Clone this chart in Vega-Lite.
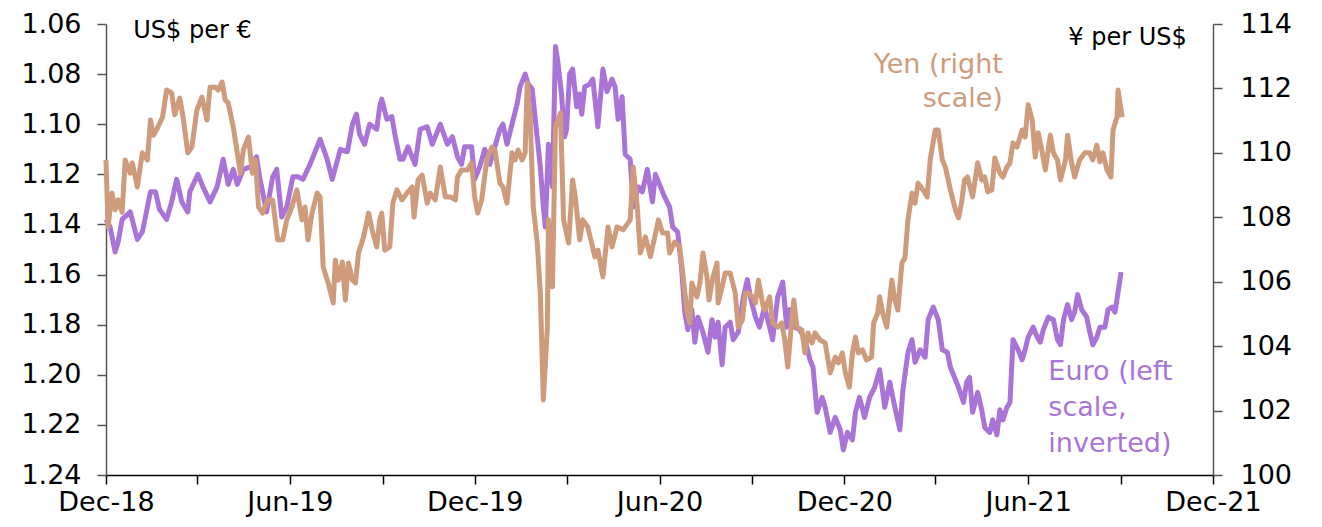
{
  "$schema": "https://vega.github.io/schema/vega-lite/v6.json",
  "width": 1107,
  "height": 451,
  "autosize": {"type": "none"},
  "padding": {"left": 106, "top": 24, "right": 109, "bottom": 52},
  "background": "white",
  "config": {
    "view": {"stroke": null},
    "font": "DejaVu Sans",
    "axis": {"labelFont": "DejaVu Sans", "labelFontSize": 27, "labelColor": "#000", "grid": false, "title": null, "labelOverlap": false, "labelFlush": false, "labelBound": false}
  },
  "datasets": {
    "euro": [
      {"d":"2018-12-01","v":1.138},{"d":"2018-12-05","v":1.141},{"d":"2018-12-10","v":1.151},{"d":"2018-12-13","v":1.147},{"d":"2018-12-17","v":1.138},{"d":"2018-12-25","v":1.135},
      {"d":"2019-01-01","v":1.146},{"d":"2019-01-06","v":1.143},{"d":"2019-01-14","v":1.127},{"d":"2019-01-19","v":1.127},{"d":"2019-01-23","v":1.134},{"d":"2019-01-30","v":1.138},
      {"d":"2019-02-04","v":1.131},{"d":"2019-02-09","v":1.122},{"d":"2019-02-14","v":1.131},{"d":"2019-02-20","v":1.135},{"d":"2019-02-22","v":1.127},
      {"d":"2019-03-02","v":1.120},{"d":"2019-03-07","v":1.125},{"d":"2019-03-14","v":1.131},{"d":"2019-03-21","v":1.125},{"d":"2019-03-27","v":1.114},
      {"d":"2019-04-01","v":1.124},{"d":"2019-04-06","v":1.118},{"d":"2019-04-10","v":1.124},{"d":"2019-04-16","v":1.118},{"d":"2019-04-23","v":1.117},{"d":"2019-04-29","v":1.113},
      {"d":"2019-05-02","v":1.121},{"d":"2019-05-09","v":1.135},{"d":"2019-05-15","v":1.121},{"d":"2019-05-19","v":1.118},{"d":"2019-05-24","v":1.137},{"d":"2019-05-29","v":1.133},
      {"d":"2019-06-04","v":1.121},{"d":"2019-06-09","v":1.121},{"d":"2019-06-14","v":1.122},{"d":"2019-06-21","v":1.116},
      {"d":"2019-07-01","v":1.106},{"d":"2019-07-08","v":1.114},{"d":"2019-07-13","v":1.122},{"d":"2019-07-21","v":1.110},{"d":"2019-07-28","v":1.111},
      {"d":"2019-08-02","v":1.100},{"d":"2019-08-06","v":1.096},{"d":"2019-08-09","v":1.104},{"d":"2019-08-14","v":1.108},{"d":"2019-08-19","v":1.100},{"d":"2019-08-26","v":1.102},{"d":"2019-08-29","v":1.093},{"d":"2019-08-31","v":1.090},
      {"d":"2019-09-05","v":1.098},{"d":"2019-09-10","v":1.097},{"d":"2019-09-13","v":1.104},{"d":"2019-09-18","v":1.114},{"d":"2019-09-21","v":1.114},{"d":"2019-09-26","v":1.109},
      {"d":"2019-10-03","v":1.116},{"d":"2019-10-08","v":1.102},{"d":"2019-10-15","v":1.101},{"d":"2019-10-20","v":1.108},{"d":"2019-10-28","v":1.100},
      {"d":"2019-11-04","v":1.108},{"d":"2019-11-09","v":1.105},{"d":"2019-11-14","v":1.113},{"d":"2019-11-18","v":1.116},{"d":"2019-11-21","v":1.109},{"d":"2019-11-28","v":1.109},
      {"d":"2019-12-01","v":1.122},{"d":"2019-12-06","v":1.117},{"d":"2019-12-11","v":1.110},{"d":"2019-12-16","v":1.116},{"d":"2019-12-21","v":1.109},{"d":"2019-12-26","v":1.102},{"d":"2019-12-29","v":1.100},
      {"d":"2020-01-02","v":1.108},{"d":"2020-01-07","v":1.100},{"d":"2020-01-12","v":1.092},{"d":"2020-01-15","v":1.085},{"d":"2020-01-20","v":1.080},{"d":"2020-01-23","v":1.084},{"d":"2020-01-27","v":1.086},{"d":"2020-01-30","v":1.098},
      {"d":"2020-02-04","v":1.117},{"d":"2020-02-07","v":1.133},{"d":"2020-02-09","v":1.141},{"d":"2020-02-12","v":1.108},{"d":"2020-02-16","v":1.125},{"d":"2020-02-19","v":1.069},{"d":"2020-02-21","v":1.074},{"d":"2020-02-25","v":1.088},{"d":"2020-02-28","v":1.105},
      {"d":"2020-03-01","v":1.102},{"d":"2020-03-04","v":1.080},{"d":"2020-03-07","v":1.078},{"d":"2020-03-11","v":1.093},{"d":"2020-03-14","v":1.088},{"d":"2020-03-16","v":1.096},{"d":"2020-03-19","v":1.085},{"d":"2020-03-24","v":1.084},{"d":"2020-03-27","v":1.082},
      {"d":"2020-04-01","v":1.101},{"d":"2020-04-06","v":1.078},{"d":"2020-04-10","v":1.087},{"d":"2020-04-15","v":1.082},{"d":"2020-04-18","v":1.085},{"d":"2020-04-21","v":1.098},{"d":"2020-04-25","v":1.089},{"d":"2020-04-28","v":1.112},
      {"d":"2020-05-03","v":1.114},{"d":"2020-05-06","v":1.133},{"d":"2020-05-11","v":1.125},{"d":"2020-05-15","v":1.127},{"d":"2020-05-20","v":1.118},{"d":"2020-05-25","v":1.131},{"d":"2020-05-28","v":1.120},
      {"d":"2020-06-01","v":1.124},{"d":"2020-06-06","v":1.129},{"d":"2020-06-11","v":1.133},{"d":"2020-06-14","v":1.141},{"d":"2020-06-19","v":1.143},{"d":"2020-06-23","v":1.158},{"d":"2020-06-26","v":1.175},{"d":"2020-06-29","v":1.182},
      {"d":"2020-07-03","v":1.174},{"d":"2020-07-06","v":1.187},{"d":"2020-07-09","v":1.177},{"d":"2020-07-14","v":1.183},{"d":"2020-07-19","v":1.191},{"d":"2020-07-23","v":1.178},{"d":"2020-07-26","v":1.185},{"d":"2020-07-29","v":1.179},
      {"d":"2020-08-02","v":1.196},{"d":"2020-08-05","v":1.181},{"d":"2020-08-10","v":1.179},{"d":"2020-08-13","v":1.186},{"d":"2020-08-18","v":1.183},{"d":"2020-08-23","v":1.169},{"d":"2020-08-27","v":1.162},{"d":"2020-08-30","v":1.169},
      {"d":"2020-09-04","v":1.177},{"d":"2020-09-08","v":1.181},{"d":"2020-09-13","v":1.173},{"d":"2020-09-18","v":1.181},{"d":"2020-09-21","v":1.186},{"d":"2020-09-26","v":1.169},
      {"d":"2020-10-01","v":1.163},{"d":"2020-10-05","v":1.181},{"d":"2020-10-08","v":1.174},{"d":"2020-10-13","v":1.181},{"d":"2020-10-18","v":1.182},{"d":"2020-10-23","v":1.186},{"d":"2020-10-28","v":1.194},{"d":"2020-10-31","v":1.197},
      {"d":"2020-11-04","v":1.215},{"d":"2020-11-09","v":1.209},{"d":"2020-11-12","v":1.213},{"d":"2020-11-17","v":1.223},{"d":"2020-11-22","v":1.217},{"d":"2020-11-27","v":1.222},{"d":"2020-11-30","v":1.230},
      {"d":"2020-12-04","v":1.223},{"d":"2020-12-09","v":1.226},{"d":"2020-12-12","v":1.215},{"d":"2020-12-16","v":1.209},{"d":"2020-12-21","v":1.217},{"d":"2020-12-26","v":1.209},{"d":"2020-12-31","v":1.205},
      {"d":"2021-01-05","v":1.198},{"d":"2021-01-10","v":1.213},{"d":"2021-01-15","v":1.203},{"d":"2021-01-20","v":1.213},{"d":"2021-01-25","v":1.222},{"d":"2021-01-28","v":1.206},
      {"d":"2021-02-02","v":1.191},{"d":"2021-02-06","v":1.186},{"d":"2021-02-09","v":1.195},{"d":"2021-02-14","v":1.190},{"d":"2021-02-19","v":1.193},{"d":"2021-02-22","v":1.178},{"d":"2021-02-27","v":1.173},
      {"d":"2021-03-04","v":1.178},{"d":"2021-03-08","v":1.190},{"d":"2021-03-13","v":1.191},{"d":"2021-03-16","v":1.197},{"d":"2021-03-21","v":1.202},{"d":"2021-03-24","v":1.205},{"d":"2021-03-29","v":1.211},
      {"d":"2021-04-01","v":1.203},{"d":"2021-04-04","v":1.201},{"d":"2021-04-07","v":1.215},{"d":"2021-04-12","v":1.207},{"d":"2021-04-16","v":1.214},{"d":"2021-04-19","v":1.221},{"d":"2021-04-24","v":1.223},{"d":"2021-04-27","v":1.218},
      {"d":"2021-05-01","v":1.224},{"d":"2021-05-04","v":1.214},{"d":"2021-05-07","v":1.218},{"d":"2021-05-11","v":1.213},{"d":"2021-05-14","v":1.211},{"d":"2021-05-17","v":1.186},{"d":"2021-05-22","v":1.190},{"d":"2021-05-26","v":1.194},{"d":"2021-05-29","v":1.190},
      {"d":"2021-06-01","v":1.185},{"d":"2021-06-06","v":1.181},{"d":"2021-06-10","v":1.185},{"d":"2021-06-13","v":1.187},{"d":"2021-06-16","v":1.182},{"d":"2021-06-21","v":1.177},{"d":"2021-06-26","v":1.178},{"d":"2021-06-30","v":1.186},
      {"d":"2021-07-03","v":1.188},{"d":"2021-07-06","v":1.178},{"d":"2021-07-10","v":1.172},{"d":"2021-07-14","v":1.178},{"d":"2021-07-17","v":1.175},{"d":"2021-07-20","v":1.168},{"d":"2021-07-24","v":1.174},{"d":"2021-07-29","v":1.177},
      {"d":"2021-08-01","v":1.183},{"d":"2021-08-04","v":1.188},{"d":"2021-08-08","v":1.185},{"d":"2021-08-11","v":1.181},{"d":"2021-08-16","v":1.181},{"d":"2021-08-19","v":1.174},{"d":"2021-08-23","v":1.173},{"d":"2021-08-26","v":1.175},{"d":"2021-08-29","v":1.167},
      {"d":"2021-09-01","v":1.159}
    ],
    "yen": [
      {"d":"2018-12-01","v":109.78},{"d":"2018-12-03","v":107.70},{"d":"2018-12-07","v":108.75},{"d":"2018-12-10","v":108.23},{"d":"2018-12-13","v":108.54},{"d":"2018-12-17","v":108.16},{"d":"2018-12-20","v":109.78},{"d":"2018-12-25","v":109.37},{"d":"2018-12-27","v":109.69},
      {"d":"2019-01-01","v":108.94},{"d":"2019-01-06","v":110.00},{"d":"2019-01-11","v":109.78},{"d":"2019-01-14","v":111.02},{"d":"2019-01-17","v":110.55},{"d":"2019-01-21","v":110.77},{"d":"2019-01-26","v":111.11},{"d":"2019-01-30","v":111.95},
      {"d":"2019-02-04","v":111.86},{"d":"2019-02-07","v":111.18},{"d":"2019-02-12","v":111.70},{"d":"2019-02-15","v":111.18},{"d":"2019-02-20","v":110.00},{"d":"2019-02-24","v":110.18},
      {"d":"2019-03-01","v":111.33},{"d":"2019-03-06","v":111.73},{"d":"2019-03-11","v":111.02},{"d":"2019-03-14","v":112.04},{"d":"2019-03-19","v":112.04},{"d":"2019-03-22","v":111.95},{"d":"2019-03-26","v":112.20},{"d":"2019-03-29","v":111.64},
      {"d":"2019-04-01","v":111.55},{"d":"2019-04-06","v":110.80},{"d":"2019-04-10","v":110.00},{"d":"2019-04-13","v":109.37},{"d":"2019-04-16","v":110.09},{"d":"2019-04-21","v":110.49},{"d":"2019-04-25","v":109.37},{"d":"2019-04-28","v":109.78},
      {"d":"2019-05-01","v":108.32},{"d":"2019-05-05","v":108.13},{"d":"2019-05-10","v":108.54},{"d":"2019-05-15","v":108.54},{"d":"2019-05-20","v":107.30},{"d":"2019-05-25","v":107.30},{"d":"2019-05-29","v":107.92},
      {"d":"2019-06-03","v":108.32},{"d":"2019-06-08","v":108.85},{"d":"2019-06-13","v":107.92},{"d":"2019-06-16","v":108.32},{"d":"2019-06-19","v":107.30},{"d":"2019-06-23","v":108.13},{"d":"2019-06-28","v":108.75},
      {"d":"2019-07-01","v":108.63},{"d":"2019-07-04","v":106.46},{"d":"2019-07-09","v":105.96},{"d":"2019-07-14","v":105.34},{"d":"2019-07-16","v":106.67},{"d":"2019-07-19","v":106.05},{"d":"2019-07-23","v":106.61},{"d":"2019-07-26","v":105.43},{"d":"2019-07-29","v":106.58},
      {"d":"2019-08-02","v":106.05},{"d":"2019-08-05","v":105.96},{"d":"2019-08-08","v":106.89},{"d":"2019-08-13","v":107.39},{"d":"2019-08-18","v":108.13},{"d":"2019-08-22","v":107.54},{"d":"2019-08-26","v":107.08},{"d":"2019-08-29","v":107.92},{"d":"2019-08-31","v":108.13},
      {"d":"2019-09-03","v":106.98},{"d":"2019-09-08","v":107.08},{"d":"2019-09-11","v":108.44},{"d":"2019-09-15","v":108.85},{"d":"2019-09-20","v":108.54},{"d":"2019-09-25","v":108.75},{"d":"2019-09-30","v":108.94},
      {"d":"2019-10-02","v":108.01},{"d":"2019-10-06","v":109.16},{"d":"2019-10-10","v":109.31},{"d":"2019-10-15","v":108.44},{"d":"2019-10-18","v":108.75},{"d":"2019-10-23","v":108.54},{"d":"2019-10-28","v":109.56},
      {"d":"2019-11-02","v":108.63},{"d":"2019-11-07","v":108.63},{"d":"2019-11-12","v":108.54},{"d":"2019-11-14","v":109.25},{"d":"2019-11-18","v":109.47},{"d":"2019-11-24","v":109.47},{"d":"2019-11-28","v":109.69},
      {"d":"2019-12-01","v":108.63},{"d":"2019-12-04","v":108.13},{"d":"2019-12-08","v":108.54},{"d":"2019-12-13","v":109.78},{"d":"2019-12-18","v":110.18},{"d":"2019-12-21","v":110.09},{"d":"2019-12-26","v":109.06},{"d":"2019-12-29","v":108.94},
      {"d":"2020-01-02","v":108.44},{"d":"2020-01-07","v":110.00},{"d":"2020-01-10","v":109.78},{"d":"2020-01-13","v":110.09},{"d":"2020-01-17","v":109.78},{"d":"2020-01-20","v":110.00},{"d":"2020-01-22","v":112.17},{"d":"2020-01-25","v":111.11},{"d":"2020-01-28","v":108.32},
      {"d":"2020-02-01","v":107.20},{"d":"2020-02-04","v":105.65},{"d":"2020-02-07","v":102.33},{"d":"2020-02-11","v":104.59},{"d":"2020-02-12","v":107.92},{"d":"2020-02-16","v":105.84},{"d":"2020-02-19","v":110.80},{"d":"2020-02-24","v":111.24},{"d":"2020-02-27","v":107.92},
      {"d":"2020-03-03","v":107.20},{"d":"2020-03-07","v":109.16},{"d":"2020-03-10","v":108.54},{"d":"2020-03-14","v":107.30},{"d":"2020-03-17","v":107.92},{"d":"2020-03-22","v":107.70},{"d":"2020-03-29","v":106.77},
      {"d":"2020-04-01","v":106.98},{"d":"2020-04-06","v":106.15},{"d":"2020-04-11","v":107.70},{"d":"2020-04-15","v":107.08},{"d":"2020-04-20","v":107.70},{"d":"2020-04-26","v":107.61},
      {"d":"2020-05-03","v":107.92},{"d":"2020-05-06","v":109.56},{"d":"2020-05-10","v":108.32},{"d":"2020-05-13","v":106.89},{"d":"2020-05-18","v":107.39},{"d":"2020-05-23","v":106.78},{"d":"2020-05-26","v":107.20},{"d":"2020-05-31","v":107.92},
      {"d":"2020-06-04","v":107.51},{"d":"2020-06-09","v":107.51},{"d":"2020-06-11","v":106.89},{"d":"2020-06-16","v":107.23},{"d":"2020-06-21","v":107.08},{"d":"2020-06-24","v":106.27},{"d":"2020-06-28","v":105.12},
      {"d":"2020-07-01","v":104.72},{"d":"2020-07-03","v":105.96},{"d":"2020-07-08","v":105.53},{"d":"2020-07-11","v":105.96},{"d":"2020-07-14","v":106.89},{"d":"2020-07-18","v":106.15},{"d":"2020-07-20","v":105.43},{"d":"2020-07-24","v":106.15},{"d":"2020-07-28","v":106.58},{"d":"2020-07-29","v":105.34},
      {"d":"2020-08-02","v":105.84},{"d":"2020-08-05","v":106.27},{"d":"2020-08-10","v":106.27},{"d":"2020-08-15","v":105.65},{"d":"2020-08-18","v":104.59},{"d":"2020-08-22","v":104.81},{"d":"2020-08-25","v":105.65},{"d":"2020-08-28","v":105.65},
      {"d":"2020-09-01","v":105.53},{"d":"2020-09-04","v":105.34},{"d":"2020-09-07","v":106.05},{"d":"2020-09-11","v":105.34},{"d":"2020-09-13","v":105.12},{"d":"2020-09-18","v":105.53},{"d":"2020-09-21","v":104.72},{"d":"2020-09-26","v":104.59},{"d":"2020-09-30","v":104.72},
      {"d":"2020-10-03","v":104.19},{"d":"2020-10-06","v":103.35},{"d":"2020-10-10","v":104.81},{"d":"2020-10-12","v":105.43},{"d":"2020-10-15","v":104.59},{"d":"2020-10-20","v":104.50},{"d":"2020-10-23","v":103.79},{"d":"2020-10-26","v":104.41},{"d":"2020-10-30","v":104.10},
      {"d":"2020-11-02","v":104.41},{"d":"2020-11-07","v":104.19},{"d":"2020-11-12","v":104.10},{"d":"2020-11-17","v":103.17},{"d":"2020-11-22","v":103.66},{"d":"2020-11-25","v":103.48},{"d":"2020-11-29","v":103.79},
      {"d":"2020-12-02","v":103.17},{"d":"2020-12-06","v":102.73},{"d":"2020-12-09","v":103.79},{"d":"2020-12-12","v":104.28},{"d":"2020-12-15","v":103.79},{"d":"2020-12-19","v":103.88},{"d":"2020-12-23","v":103.57},{"d":"2020-12-28","v":103.66},{"d":"2020-12-30","v":104.72},
      {"d":"2021-01-03","v":105.03},{"d":"2021-01-05","v":105.53},{"d":"2021-01-08","v":105.03},{"d":"2021-01-12","v":104.59},{"d":"2021-01-17","v":106.05},{"d":"2021-01-20","v":105.43},{"d":"2021-01-23","v":105.12},{"d":"2021-01-27","v":106.58},{"d":"2021-01-30","v":106.74},
      {"d":"2021-02-02","v":107.92},{"d":"2021-02-06","v":108.75},{"d":"2021-02-09","v":108.44},{"d":"2021-02-12","v":109.06},{"d":"2021-02-17","v":108.85},{"d":"2021-02-21","v":108.63},{"d":"2021-02-24","v":109.78},
      {"d":"2021-03-01","v":110.71},{"d":"2021-03-04","v":110.71},{"d":"2021-03-08","v":109.78},{"d":"2021-03-11","v":109.56},{"d":"2021-03-16","v":108.85},{"d":"2021-03-21","v":108.23},{"d":"2021-03-24","v":107.98},{"d":"2021-03-27","v":108.44},{"d":"2021-03-30","v":109.16},
      {"d":"2021-04-02","v":109.25},{"d":"2021-04-07","v":108.63},{"d":"2021-04-12","v":109.69},{"d":"2021-04-16","v":109.16},{"d":"2021-04-19","v":109.25},{"d":"2021-04-22","v":108.79},{"d":"2021-04-26","v":108.85},{"d":"2021-04-29","v":109.84},
      {"d":"2021-05-04","v":109.37},{"d":"2021-05-07","v":109.25},{"d":"2021-05-11","v":109.56},{"d":"2021-05-14","v":109.69},{"d":"2021-05-17","v":110.31},{"d":"2021-05-21","v":110.18},{"d":"2021-05-26","v":110.71},{"d":"2021-05-29","v":110.49},
      {"d":"2021-06-01","v":111.49},{"d":"2021-06-05","v":111.02},{"d":"2021-06-08","v":109.87},{"d":"2021-06-11","v":110.62},{"d":"2021-06-15","v":110.00},{"d":"2021-06-18","v":109.47},{"d":"2021-06-23","v":110.55},{"d":"2021-06-26","v":110.00},{"d":"2021-06-30","v":109.78},
      {"d":"2021-07-03","v":109.16},{"d":"2021-07-08","v":109.78},{"d":"2021-07-10","v":110.55},{"d":"2021-07-14","v":109.69},{"d":"2021-07-17","v":109.25},{"d":"2021-07-22","v":109.78},{"d":"2021-07-27","v":110.00},
      {"d":"2021-08-01","v":110.00},{"d":"2021-08-04","v":109.78},{"d":"2021-08-08","v":110.24},{"d":"2021-08-11","v":109.72},{"d":"2021-08-14","v":110.00},{"d":"2021-08-18","v":109.47},{"d":"2021-08-22","v":109.25},{"d":"2021-08-24","v":110.71},{"d":"2021-08-28","v":111.11},{"d":"2021-08-29","v":111.95},
      {"d":"2021-09-01","v":111.33},{"d":"2021-09-02","v":111.11}
    ]
  },
  "encoding": {
    "x": {
      "field": "d", "type": "temporal",
      "scale": {"type": "utc", "domain": [{"year": 2018, "month": 12, "date": 1, "utc": true}, {"year": 2021, "month": 12, "date": 1, "utc": true}]},
      "axis": {
        "values": [
          {"year": 2018, "month": 12, "date": 1, "utc": true}, {"year": 2019, "month": 3, "date": 1, "utc": true}, {"year": 2019, "month": 6, "date": 1, "utc": true}, {"year": 2019, "month": 9, "date": 1, "utc": true},
          {"year": 2019, "month": 12, "date": 1, "utc": true}, {"year": 2020, "month": 3, "date": 1, "utc": true}, {"year": 2020, "month": 6, "date": 1, "utc": true}, {"year": 2020, "month": 9, "date": 1, "utc": true},
          {"year": 2020, "month": 12, "date": 1, "utc": true}, {"year": 2021, "month": 3, "date": 1, "utc": true}, {"year": 2021, "month": 6, "date": 1, "utc": true}, {"year": 2021, "month": 9, "date": 1, "utc": true},
          {"year": 2021, "month": 12, "date": 1, "utc": true}
        ],
        "labelExpr": "utcmonth(datum.value) % 6 == 5 ? utcFormat(datum.value, '%b-%y') : ''",
        "domainColor": "#000", "domainWidth": 1.5, "tickColor": "#000", "tickWidth": 1.5, "tickSize": 9, "labelPadding": 5
      }
    }
  },
  "layer": [
    {
      "layer": [
        {
          "data": {"name": "euro"},
          "mark": {"type": "line", "color": "#A973D7", "strokeWidth": 5, "strokeJoin": "round"},
          "encoding": {
            "y": {"field": "v", "type": "quantitative",
              "scale": {"domain": [1.06, 1.24], "reverse": true, "nice": false, "zero": false},
              "axis": {"orient": "left", "values": [1.06, 1.08, 1.10, 1.12, 1.14, 1.16, 1.18, 1.20, 1.22, 1.24], "format": ".2f", "domainColor": "#555", "domainWidth": 1.5, "tickColor": "#555", "tickWidth": 1.5, "tickSize": 9, "labelPadding": 16}}
          }
        },
        {
          "data": {"values": [{"d": "2018-12-28", "v": 1.0656, "t": "US$ per €"}]},
          "mark": {"type": "text", "align": "left", "baseline": "alphabetic", "fontSize": 24, "color": "#000"},
          "encoding": {"y": {"field": "v", "type": "quantitative"}, "text": {"field": "t"}}
        },
        {
          "data": {"values": [{"d": "2021-06-21", "v": 1.2021, "t": "Euro (left\nscale,\ninverted)"}]},
          "mark": {"type": "text", "align": "left", "baseline": "alphabetic", "fontSize": 27, "lineHeight": 36, "lineBreak": "\n", "color": "#A973D7"},
          "encoding": {"y": {"field": "v", "type": "quantitative"}, "text": {"field": "t"}}
        }
      ]
    },
    {
      "layer": [
        {
          "data": {"name": "yen"},
          "mark": {"type": "line", "color": "#CF9B7D", "strokeWidth": 5, "strokeJoin": "round"},
          "encoding": {
            "y": {"field": "v", "type": "quantitative",
              "scale": {"domain": [100, 114], "nice": false, "zero": false},
              "axis": {"orient": "right", "values": [100, 102, 104, 106, 108, 110, 112, 114], "format": "d", "domainColor": "#555", "domainWidth": 1.5, "tickColor": "#555", "tickWidth": 1.5, "tickSize": 9, "labelPadding": 18}}
          }
        },
        {
          "data": {"values": [{"d": "2021-11-05", "v": 113.35, "t": "¥ per US$"}]},
          "mark": {"type": "text", "align": "right", "baseline": "alphabetic", "fontSize": 24, "color": "#000"},
          "encoding": {"y": {"field": "v", "type": "quantitative"}, "text": {"field": "t"}}
        },
        {
          "data": {"values": [{"d": "2021-05-07", "v": 112.48, "t": "Yen (right\nscale)"}]},
          "mark": {"type": "text", "align": "right", "baseline": "alphabetic", "fontSize": 27, "lineHeight": 34, "lineBreak": "\n", "color": "#CF9B7D"},
          "encoding": {"y": {"field": "v", "type": "quantitative"}, "text": {"field": "t"}}
        }
      ]
    }
  ],
  "resolve": {"scale": {"y": "independent"}, "axis": {"y": "independent"}}
}
